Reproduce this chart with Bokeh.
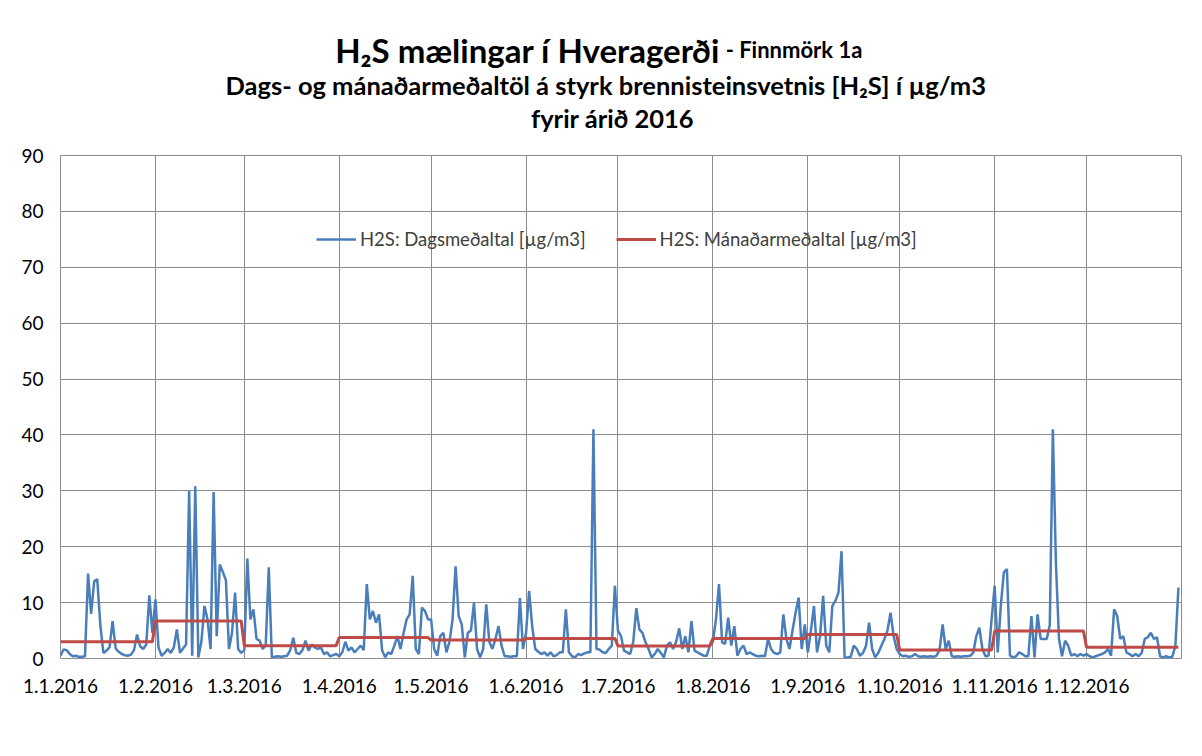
from bokeh.plotting import figure
from bokeh.layouts import column
from bokeh.models import Range1d, FixedTicker, Label, Legend, LegendItem
from bokeh.embed import file_html
from bokeh.resources import INLINE

# ---------------- data ----------------
month_labels = ["1.1.2016", "1.2.2016", "1.3.2016", "1.4.2016", "1.5.2016", "1.6.2016",
                "1.7.2016", "1.8.2016", "1.9.2016", "1.10.2016", "1.11.2016", "1.12.2016"]

# daily means [µg/m3]
jan = [0.5, 1.6, 1.5, 0.8, 0.4, 0.5, 0.3, 0.3, 0.4, 15.2,
       8.0, 13.8, 14.2, 6.0, 1.0, 1.4, 2.0, 6.7, 1.8, 1.2,
       0.8, 0.6, 0.5, 0.7, 1.5, 4.3, 2.2, 1.7, 2.5, 11.3,
       4.6]
feb = [10.6, 2.0, 0.5, 1.0, 1.7, 1.0, 2.0, 5.2, 1.0, 1.8,
       2.5, 30.0, 0.5, 30.8, 0.2, 3.0, 9.4, 7.0, 1.7, 29.8,
       4.0, 16.8, 15.5, 14.0, 1.7, 4.6, 11.8, 1.7, 1.0]
mar = [1.5, 17.9, 7.0, 8.8, 3.5, 3.2, 1.7, 2.3, 16.3, 0.2,
       0.3, 0.4, 0.3, 0.4, 0.5, 1.5, 3.7, 1.0, 0.8, 1.5,
       3.2, 1.4, 2.5, 2.0, 1.7, 2.0, 0.8, 1.1, 0.4, 0.6,
       0.8]
apr = [0.4, 1.1, 3.0, 1.4, 2.0, 1.1, 1.7, 2.3, 1.5, 13.3,
       7.0, 8.5, 6.4, 7.9, 1.5, 0.2, 1.1, 0.8, 2.3, 4.0,
       1.7, 4.5, 7.0, 7.9, 14.8, 1.7, 0.8, 9.1, 8.5, 7.0]
may = [7.0, 1.7, 0.5, 4.0, 4.6, 1.1, 3.0, 7.0, 16.5, 7.6,
       6.1, 0.2, 4.6, 5.0, 10.0, 1.7, 0.2, 1.7, 9.7, 3.0,
       1.7, 3.5, 5.8, 2.3, 0.4, 0.4, 0.3, 0.4, 0.4, 10.8,
       1.7]
jun = [4.6, 12.1, 5.8, 1.7, 1.2, 0.8, 1.1, 0.5, 1.1, 0.4,
       0.6, 1.1, 1.1, 8.8, 1.1, 0.4, 0.2, 0.8, 0.6, 0.9,
       1.1, 1.1, 41.0, 1.7, 1.6, 1.1, 1.0, 1.7, 2.3, 13.0]
jul = [5.0, 4.0, 1.4, 1.1, 0.8, 3.0, 9.0, 5.2, 4.6, 2.9,
       1.7, 0.2, 0.8, 1.7, 1.0, 0.2, 2.3, 2.9, 1.7, 3.0,
       5.4, 1.7, 4.0, 1.1, 6.7, 1.4, 1.1, 0.8, 0.5, 0.5,
       2.3]
aug = [3.0, 7.0, 13.3, 2.9, 2.6, 7.3, 2.3, 5.8, 0.5, 1.7,
       2.3, 0.8, 1.1, 0.8, 0.5, 0.4, 0.5, 0.4, 3.5, 1.7,
       1.0, 0.8, 1.1, 7.9, 3.5, 1.7, 5.0, 8.2, 10.9, 1.7,
       6.1]
sep = [1.1, 5.0, 9.4, 1.1, 4.0, 11.2, 2.3, 1.1, 9.4, 10.3,
       11.8, 19.2, 0.2, 0.2, 0.3, 2.3, 1.7, 0.5, 1.0, 2.3,
       6.4, 1.7, 0.2, 1.0, 2.3, 3.5, 5.0, 8.2, 4.0, 1.7]
oct_ = [0.8, 0.4, 0.5, 0.3, 0.4, 0.8, 0.4, 0.3, 0.4, 0.3,
        0.4, 0.3, 0.5, 1.5, 6.1, 1.7, 3.2, 0.4, 0.3, 0.4,
        0.3, 0.4, 0.4, 0.5, 1.0, 4.0, 5.5, 1.7, 0.4, 0.5,
        7.0]
nov = [13.0, 1.1, 9.4, 15.4, 16.0, 0.5, 0.2, 0.4, 1.1, 0.8,
       0.4, 0.4, 7.6, 0.2, 7.9, 3.5, 3.5, 3.5, 6.0, 41.0,
       17.0, 3.5, 0.4, 3.2, 2.3, 0.5, 0.8, 0.4, 0.8, 0.5]
dec = [0.8, 0.4, 0.2, 0.4, 0.6, 0.8, 1.1, 1.7, 0.5, 8.8,
       7.6, 3.5, 4.0, 1.1, 0.8, 0.4, 0.8, 0.4, 1.0, 3.5,
       3.8, 4.6, 3.5, 3.8, 0.4, 0.2, 0.4, 0.2, 0.3, 2.3,
       12.7]

# monthly means [µg/m3]
monthly_avg = [3.0, 6.7, 2.3, 3.75, 3.3, 3.6, 2.25, 3.6, 4.3, 1.5, 4.9, 2.0]

months = [jan, feb, mar, apr, may, jun, jul, aug, sep, oct_, nov, dec]
daily = [v for m in months for v in m]
days = list(range(len(daily)))
month_starts = []
acc = 0
for m in months:
    month_starts.append(acc)
    acc += len(m)
monthly_line = [a for a, m in zip(monthly_avg, months) for _ in m]

# ---------------- layout constants ----------------
FONT = "Lato"
GRID = "#8c8c8c"
W = 1200
TITLE_H = 140
FL, FR, FT, FB = 60, 1181, 155, 658   # frame edges on the page
MAIN_H = 750 - TITLE_H

# ---------------- title strip ----------------
t = figure(width=W, height=TITLE_H, output_backend="svg", toolbar_location=None,
           x_range=Range1d(0, W), y_range=Range1d(TITLE_H, 0),
           x_axis_location=None, y_axis_location=None,
           min_border_left=0, min_border_right=0, min_border_top=0, min_border_bottom=0)
t.outline_line_color = None
t.xgrid.visible = False
t.ygrid.visible = False
t.background_fill_color = "white"
t.border_fill_color = "white"

def add_label(text, X, Y, size, align):
    t.add_layout(Label(x=X, y=Y, text=text,
                       text_font=FONT, text_font_style="bold", text_font_size=size,
                       text_align=align, text_baseline="alphabetic", text_color="black"))

add_label("H₂S mælingar í Hveragerði", 706, 49, "33px", "right")
add_label("- Finnmörk 1a", 712, 49, "22px", "left")
add_label("Dags- og mánaðarmeðaltöl  á styrk brennisteinsvetnis [H₂S] í µg/m3", 587, 84, "25.5px", "center")
add_label("fyrir árið 2016", 591, 117, "25.5px", "center")

# ---------------- main chart ----------------
p = figure(width=W, height=MAIN_H, output_backend="svg", toolbar_location=None,
           x_range=Range1d(0, 366), y_range=Range1d(0, 90),
           min_border_left=FL, min_border_right=W - FR,
           min_border_top=FT - TITLE_H, min_border_bottom=750 - FB)
p.background_fill_color = "white"
p.border_fill_color = "white"
p.outline_line_color = GRID
p.outline_line_width = 1

r1 = p.line(days, daily, line_color="#4a7ebb", line_width=2.5)
r2 = p.line(days, monthly_line, line_color="#be4b48", line_width=3)

p.xaxis.ticker = FixedTicker(ticks=month_starts)
p.xaxis.major_label_overrides = {s: lab for s, lab in zip(month_starts, month_labels)}
p.yaxis.ticker = FixedTicker(ticks=list(range(0, 91, 10)))

for ax in (p.xaxis[0], p.yaxis[0]):
    ax.axis_line_color = None
    ax.major_tick_line_color = None
    ax.minor_tick_line_color = None
    ax.major_label_text_font = FONT
    ax.major_label_text_font_size = "19px"
    ax.major_label_text_color = "#000000"
p.xaxis.major_label_standoff = 14
p.yaxis.major_label_standoff = 11

p.xgrid.grid_line_color = GRID
p.ygrid.grid_line_color = GRID
p.xgrid.grid_line_width = 1
p.ygrid.grid_line_width = 1

legend = Legend(items=[LegendItem(label="H2S: Dagsmeðaltal [µg/m3]", renderers=[r1]),
                       LegendItem(label="H2S: Mánaðarmeðaltal [µg/m3]", renderers=[r2])],
                orientation="horizontal", location=(256, 408),
                background_fill_alpha=0, border_line_color=None,
                label_text_font=FONT, label_text_font_size="18.5px", label_text_color="#404040",
                glyph_width=40, spacing=30, padding=0, margin=0, label_standoff=4)
p.add_layout(legend)

layout = column(t, p, spacing=0)
open("out.html", "w").write(file_html(layout, INLINE))
